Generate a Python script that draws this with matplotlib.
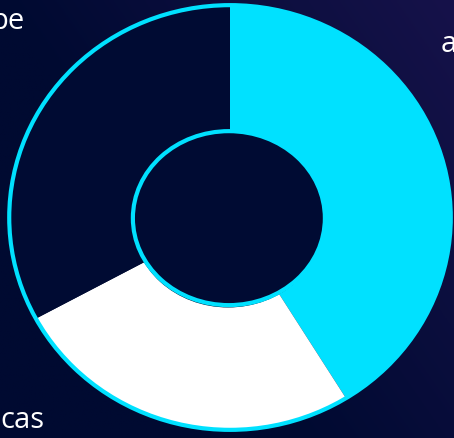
import numpy as np
import matplotlib.pyplot as plt
from matplotlib.patches import Ellipse

# slices, clockwise from 12 o'clock
values = [41.2, 25.9, 32.9]
colors = ['#00e1ff', '#ffffff', '#000b33']
labels = ['pe', 'a', 'cas']  # only the visible parts of the labels

W, H = 454, 438
fig = plt.figure(figsize=(W / 100, H / 100), dpi=100)

# background gradient, darker bottom-left, a bit purple top-right
bg = fig.add_axes([0, 0, 1, 1])
yy, xx = np.mgrid[0:1:200j, 0:1:200j]
g = np.clip((xx * 0.9 + yy * 0.6 - 0.6) / 0.9, 0, 1)
c0 = np.array([0x00, 0x0a, 0x31]) / 255
c1 = np.array([0x16, 0x12, 0x4a]) / 255
img = c0 + (c1 - c0) * g[..., None]
bg.imshow(img, origin='lower', extent=[0, 1, 0, 1], aspect='auto')
bg.axis('off')

ax = fig.add_axes([0, 0, 1, 1])
ax.patch.set_alpha(0)
ax.pie(values, colors=colors, startangle=90, counterclock=False,
       radius=0.99, wedgeprops=dict(linewidth=0))

cx, cy = 230, 217.5   # centre in px from top-left
rx, ry = 223, 214.5
ax.set_aspect('auto')
ax.set_xlim(-cx / rx, (W - cx) / rx)
ax.set_ylim(-(H - cy) / ry, cy / ry)
ax.axis('off')

# outer cyan rim
ax.add_patch(Ellipse((0, 0), 2 * 0.99, 2 * 0.99, fill=False,
                     edgecolor='#00e1ff', linewidth=3))

# centre hole with shadow and cyan rim
hx, hy = 2 * 96 / rx, 2 * 87 / ry
ax.add_patch(Ellipse((-0.008, -0.014), hx, hy, facecolor='#000a2c',
                     edgecolor='none'))
ax.add_patch(Ellipse((-0.005, -0.003), hx, hy, facecolor='#000b33',
                     edgecolor='#00e1ff', linewidth=3))

font = dict(color='white', fontsize=21, family='Open Sans')
fig.text(25 / W, 1 - 29 / H, labels[0], ha='right', va='baseline', **font)
fig.text(441 / W, 1 - 52 / H, labels[1], ha='left', va='baseline', **font)
fig.text(44 / W, 1 - 428 / H, labels[2], ha='right', va='baseline', **font)

fig.savefig('out.png', dpi=100)
